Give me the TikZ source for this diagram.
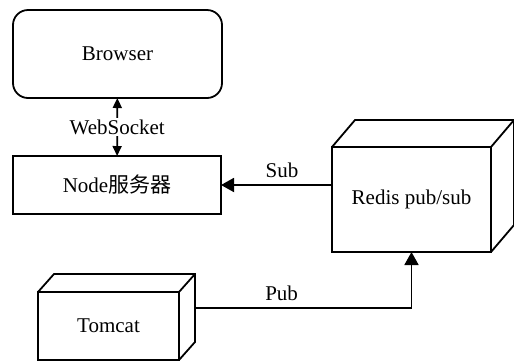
\documentclass[tikz,border=0pt]{standalone}
\usepackage{fontspec}
\setmainfont{Liberation Serif}
\newfontfamily\cjk{Noto Sans CJK SC}
\usepackage{tikz}
\usetikzlibrary{positioning}
\usetikzlibrary{arrows.meta}

\tikzset{
  box/.style = {draw, line width = 0.9pt, inner sep = 0pt, outer sep = 0pt, font = \fontsize{10.5}{12}\selectfont},
  bigtip/.style = {-{Triangle[length = 6.5pt, width = 7pt]}},
  smalltip/.style = {{Triangle[length = 5pt, width = 4.5pt]}-{Triangle[length = 5pt, width = 4.5pt]}}
}

\begin{document}
\begin{tikzpicture} [x = 0.5pt, y = -0.5pt, line width = 0.9pt]
    \useasboundingbox (0,0) rectangle (514,361);
    \node (browser) [box, rounded corners = 7.5pt, minimum width = 104.5pt, minimum height = 44pt] at (117.5,54) {Browser};
    \node (nodesrv) [box, minimum width = 104pt, minimum height = 29pt] at (117,185) {Node{\cjk 服务器}};
    \node (redis) [box, minimum width = 79.5pt, minimum height = 52.5pt] at (411.5,199.5) {Redis pub/sub};
    \node (tomcat) [box, minimum width = 70.5pt, minimum height = 34pt] at (108.5,326) {Tomcat};
    \draw (redis.north west) -- ++(23,-27) -- ++(159,0) -- ++(0,105) -- (redis.south east);
    \draw (redis.north east) -- ++(23,-27);
    \draw (tomcat.north west) -- ++(16,-18) -- ++(141,0) -- ++(0,68) -- (tomcat.south east);
    \draw (tomcat.north east) -- ++(16,-18);
    \coordinate (tomcatside) at (195,308);
    \draw [smalltip] (browser) -- (nodesrv) node [midway, fill = white, inner sep = 1pt, font = \fontsize{10.5}{12}\selectfont] {WebSocket};
    \draw [bigtip] (nodesrv.east -| redis.west) -- (nodesrv.east) node [pos = 0.45, above, font = \fontsize{10.5}{12}\selectfont] {Sub};
    \draw [bigtip] (tomcatside) -| (redis.south) node [pos = 0.2, above, font = \fontsize{10.5}{12}\selectfont] {Pub};
  \end{tikzpicture}
\end{document}
